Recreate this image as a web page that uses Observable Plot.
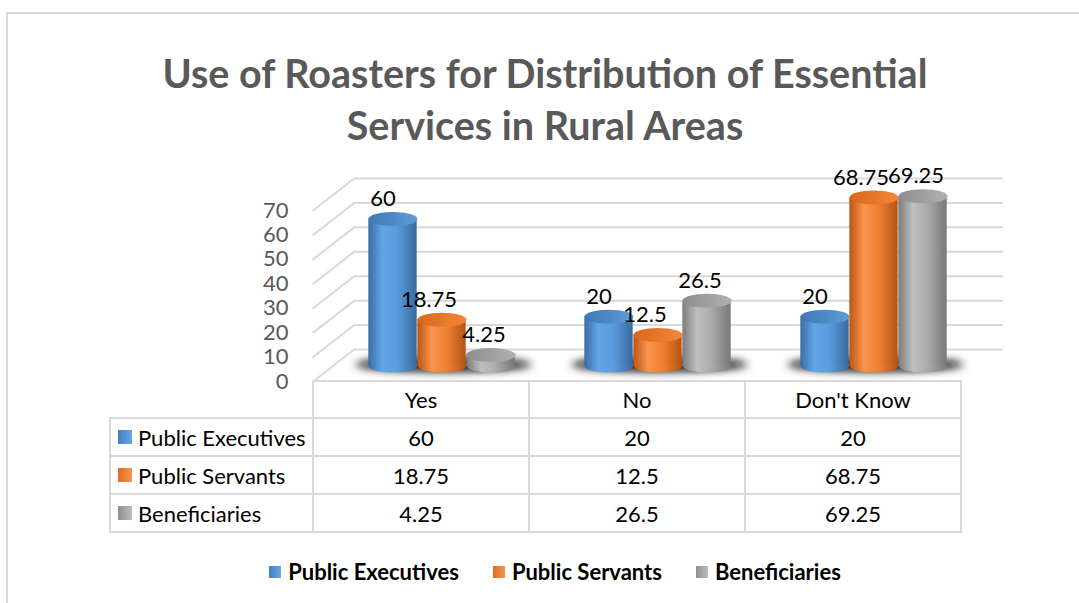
<!DOCTYPE html>
<html>
<head>
<meta charset="utf-8">
<script src="https://cdn.jsdelivr.net/npm/d3@7"></script>
<script src="https://cdn.jsdelivr.net/npm/@observablehq/plot@0.6"></script>
<style>
  body { margin: 0; background: #fff; }
  #wrap { position: relative; width: 1079px; height: 603px; overflow: hidden; font-family: Lato, "Noto Sans", sans-serif; background: #fff; }
  #frame { position: absolute; left: 6px; top: 12px; width: 1200px; height: 800px; border: 2px solid #d9d9d9; box-sizing: border-box; }
  #title { position: absolute; left: 0; top: 47px; width: 1090px; text-align: center; font-weight: bold; font-size: 39.5px; line-height: 52px; color: #595959; }
  .ln { position: absolute; background: #d9d9d9; }
  .cell { position: absolute; display: flex; align-items: center; justify-content: center; font-size: 22px; color: #000; white-space: nowrap; }
  .cell.lab { justify-content: flex-start; }
  .key { display: inline-block; width: 14px; height: 14px; margin-right: 6px; }
  #legend { position: absolute; left: 0; width: 1110px; top: 558px; display: flex; justify-content: center; gap: 34px; font-size: 22px; font-weight: bold; color: #000; }
  #legend .item { display: flex; align-items: center; }
  #legend .key { width: 12px; height: 12px; margin-right: 7px; }
</style>
</head>
<body>
<div id="wrap">
  <div id="frame"></div>
  <div id="plot"></div>
  <div id="title">Use of Roasters for Distribution of Essential<br>Services in Rural Areas</div>
  <div id="table"></div>
  <div id="legend"></div>
</div>
<script>
// ---------------- data ----------------
const categories = ["Yes", "No", "Don't Know"];
const series = ["Public Executives", "Public Servants", "Beneficiaries"];
const publicExecutives = [60, 20, 20];
const publicServants = [18.75, 12.5, 68.75];
const beneficiaries = [4.25, 26.5, 69.25];
const yTicks = [0, 10, 20, 30, 40, 50, 60, 70];
const valueLabels = [["60", "20", "20"], ["18.75", "12.5", "68.75"], ["4.25", "26.5", "69.25"]];

// ---------------- styling ----------------
const seriesValues = [publicExecutives, publicServants, beneficiaries];
const bodyStops = [
  [["0", "#3a6ea8"], ["0.3", "#63a6e6"], ["0.6", "#5a9bdb"], ["1", "#386aa2"]],
  [["0", "#bb5614"], ["0.3", "#f9934e"], ["0.6", "#f08133"], ["1", "#b55213"]],
  [["0", "#7b7b7b"], ["0.3", "#c0c0c0"], ["0.6", "#ababab"], ["1", "#777777"]]
];
const topStops = [
  [["0", "#3e77b6"], ["1", "#5f9cd8"]],
  [["0", "#d9661c"], ["1", "#f5873a"]],
  [["0", "#8e8e8e"], ["1", "#b0b0b0"]]
];
const keyColors = [["#3f7fc4", "#6aa8e2"], ["#e06b1e", "#f59550"], ["#8f8f8f", "#bdbdbd"]];

const W = 1079, H = 603;
const frontY0 = 381, frontY70 = 210;
const plotLeft = 312, plotRight = 962;
const depthDx = 41, depthDy = -32;       // back wall offset
const barDy = -16;                       // bars sit at mid depth
const barW = 49;
const offsets = [-28.5, 20.5, 69.5];     // bar centre offset from band centre (px)
const labelDx = [-10, -13, -7];
const band = (plotRight - plotLeft) / categories.length;

const rows = categories.flatMap((c, i) => series.map((s, j) => ({category: c, series: s, si: j, value: seriesValues[j][i], label: valueLabels[j][i]})));

function ellipse(rx, ry) {
  const k = 0.5523;
  return {
    draw(ctx) {
      ctx.moveTo(rx, 0);
      ctx.bezierCurveTo(rx, ry * k, rx * k, ry, 0, ry);
      ctx.bezierCurveTo(-rx * k, ry, -rx, ry * k, -rx, 0);
      ctx.bezierCurveTo(-rx, -ry * k, -rx * k, -ry, 0, -ry);
      ctx.bezierCurveTo(rx * k, -ry, rx, -ry * k, rx, 0);
      ctx.closePath();
    }
  };
}
const capSym = ellipse(barW / 2, 7);
const shadowSym = ellipse(88, 7);

const diagLen = Math.hypot(depthDx, depthDy);
const diagAngle = Math.atan2(depthDx, -depthDy) * 180 / Math.PI;

const barMarks = series.flatMap((s, j) => {
  const d = rows.filter(r => r.si === j);
  const insetLeft = band / 2 + offsets[j] - barW / 2;
  const insetRight = band / 2 - offsets[j] - barW / 2;
  return [
    Plot.dot(d, {x: "category", y: () => 0, dx: offsets[j], dy: barDy, symbol: capSym, fill: `url(#body${j})`, stroke: "none"}),
    Plot.barY(d, {x: "category", y1: () => 0, y2: "value", dy: barDy, insetLeft, insetRight, fill: `url(#body${j})`}),
    Plot.dot(d, {x: "category", y: "value", dx: offsets[j], dy: barDy, symbol: capSym, fill: `url(#top${j})`, stroke: "none"}),
  ];
});
const labelMarks = series.map((s, j) =>
  Plot.text(rows.filter(r => r.si === j), {x: "category", y: "value", text: "label", dx: offsets[j] + labelDx[j], dy: barDy - 20, fill: "#000", fontSize: 22})
);

const chart = Plot.plot({
  width: W,
  height: H,
  marginLeft: plotLeft,
  marginRight: W - plotRight,
  marginTop: frontY70,
  marginBottom: H - frontY0,
  x: {domain: categories, padding: 0, axis: null},
  y: {domain: [0, 70], ticks: yTicks, tickSize: 0, tickPadding: 24, label: null},
  style: {fontFamily: "Lato, 'Noto Sans', sans-serif", fontSize: "22px", color: "#595959", background: "transparent", overflow: "visible"},
  marks: [
    Plot.ruleY(yTicks, {dx: depthDx, dy: depthDy, stroke: "#d9d9d9", strokeWidth: 2}),
    Plot.vector(yTicks, {x: () => categories[0], y: d => d, dx: -band / 2 + depthDx / 2, dy: depthDy / 2, anchor: "middle",
      length: diagLen, rotate: diagAngle, stroke: "#d9d9d9", strokeWidth: 2, ariaDescription: "side"}),
    Plot.dot(categories, {x: d => d, y: () => 0, dx: 22, dy: barDy - 1, symbol: shadowSym, fill: "#111", fillOpacity: 1, stroke: "none", ariaDescription: "shadow"}),
    ...barMarks,
    ...labelMarks
  ]
});

// gradients and blur
const svg = d3.select(chart);
const defs = svg.insert("defs", ":first-child");
function grad(id, stops) {
  const g = defs.append("linearGradient").attr("id", id).attr("x1", 0).attr("x2", 1).attr("y1", 0).attr("y2", 0);
  stops.forEach(([o, c]) => g.append("stop").attr("offset", o).attr("stop-color", c));
}
bodyStops.forEach((s, j) => grad(`body${j}`, s));
topStops.forEach((s, j) => grad(`top${j}`, s));
defs.append("filter").attr("id", "blur").attr("x", "-50%").attr("y", "-400%").attr("width", "200%").attr("height", "900%")
  .append("feGaussianBlur").attr("stdDeviation", 4);
function pathsOf(label) {
  const out = [];
  chart.querySelectorAll(`[aria-description="${label}"]`).forEach(n => {
    if (n.tagName.toLowerCase() === "path") out.push(n); else n.querySelectorAll("path").forEach(p => out.push(p));
  });
  return out;
}
pathsOf("shadow").forEach(p => p.setAttribute("filter", "url(#blur)"));
// keep only the shaft of each side-wall vector (no arrow head)
pathsOf("side").forEach(p => {
  const d = p.getAttribute("d");
  const m = d.match(/^M[^Mm]*/);
  if (m) p.setAttribute("d", m[0]);
});

document.getElementById("plot").appendChild(chart);
chart.style.position = "absolute"; chart.style.left = "0"; chart.style.top = "0";

// ---------------- data table (columns from the x scale) ----------------
const xs = chart.scale("x");
const colX = categories.map(c => xs.apply(c));
const bw = xs.bandwidth;
const tableLeft = 110;
const rowY = [381, 418, 456, 494, 532];
const tbl = document.getElementById("table");
function line(x, y, w, h) {
  const d = document.createElement("div"); d.className = "ln";
  Object.assign(d.style, {left: x + "px", top: y + "px", width: w + "px", height: h + "px"});
  tbl.appendChild(d);
}
function cell(html, x, y, w, h, cls) {
  const d = document.createElement("div"); d.className = "cell" + (cls ? " " + cls : "");
  Object.assign(d.style, {left: x + "px", top: y + "px", width: w + "px", height: h + "px"});
  d.innerHTML = html; tbl.appendChild(d);
}
const right = colX[colX.length - 1] + bw;
line(colX[0] - 1, rowY[0] - 1, right - colX[0] + 2, 2);
for (let r = 1; r < rowY.length; r++) line(tableLeft - 1, rowY[r] - 1, right - tableLeft + 2, 2);
line(tableLeft - 1, rowY[1] - 1, 2, rowY[4] - rowY[1] + 1);
colX.concat([right]).forEach(x => line(x - 1, rowY[0] - 1, 2, rowY[4] - rowY[0] + 1));
categories.forEach((c, i) => cell(c, colX[i], rowY[0], bw, rowY[1] - rowY[0]));
series.forEach((s, j) => {
  const [a, b] = keyColors[j];
  cell(`<span class="key" style="background:linear-gradient(90deg,${a},${b})"></span>${s}`, tableLeft + 8, rowY[j + 1], colX[0] - tableLeft - 8, rowY[j + 2] - rowY[j + 1], "lab");
  categories.forEach((c, i) => cell(valueLabels[j][i], colX[i], rowY[j + 1], bw, rowY[j + 2] - rowY[j + 1]));
});

// ---------------- legend ----------------
const leg = document.getElementById("legend");
series.forEach((s, j) => {
  const [a, b] = keyColors[j];
  const it = document.createElement("div"); it.className = "item";
  it.innerHTML = `<span class="key" style="background:linear-gradient(90deg,${a},${b})"></span>${s}`;
  leg.appendChild(it);
});
</script>
</body>
</html>
